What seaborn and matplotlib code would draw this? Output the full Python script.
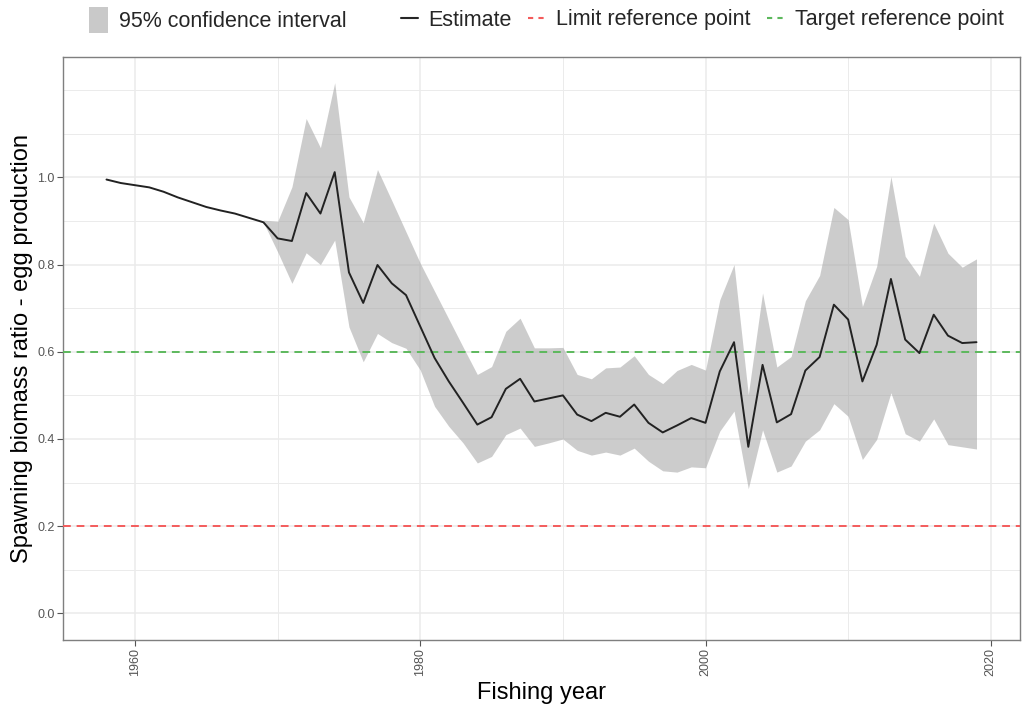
import numpy as np
import pandas as pd
import matplotlib
matplotlib.use("Agg")
import matplotlib.pyplot as plt
from matplotlib.lines import Line2D
from matplotlib.patches import Patch
import seaborn as sns

# Spawning biomass ratio (egg production) by fishing year
years = list(range(1958, 2020))
estimate = [
    0.995, 0.987, 0.982, 0.977, 0.967, 0.954, 0.943, 0.932, 0.924, 0.917, 0.907, 0.897,
    0.860, 0.854, 0.964, 0.917, 1.012, 0.782, 0.712, 0.799, 0.757, 0.730,
    0.658, 0.586, 0.532, 0.483, 0.433, 0.450, 0.515, 0.538, 0.486, 0.493,
    0.500, 0.456, 0.441, 0.460, 0.451, 0.479, 0.437, 0.415, 0.431, 0.448,
    0.437, 0.555, 0.622, 0.382, 0.570, 0.438, 0.457, 0.557, 0.588, 0.708,
    0.674, 0.532, 0.616, 0.767, 0.628, 0.597, 0.685, 0.637, 0.620, 0.622,
]

# 95% confidence interval, available from 1969 onwards
ci_years = list(range(1969, 2020))
ci_lower = [
    0.897,
    0.829, 0.757, 0.827, 0.800, 0.856, 0.657, 0.577, 0.642, 0.621, 0.608,
    0.558, 0.475, 0.429, 0.391, 0.345, 0.360, 0.410, 0.425, 0.383, 0.391,
    0.400, 0.374, 0.363, 0.370, 0.363, 0.379, 0.349, 0.327, 0.324, 0.336,
    0.334, 0.418, 0.464, 0.286, 0.421, 0.324, 0.338, 0.395, 0.421, 0.481,
    0.452, 0.353, 0.399, 0.506, 0.412, 0.395, 0.446, 0.387, 0.382, 0.377,
]
ci_upper = [
    0.902,
    0.899, 0.978, 1.135, 1.068, 1.217, 0.955, 0.896, 1.018, 0.947, 0.875,
    0.803, 0.739, 0.675, 0.611, 0.548, 0.566, 0.647, 0.677, 0.609, 0.609,
    0.610, 0.548, 0.538, 0.563, 0.565, 0.591, 0.548, 0.527, 0.557, 0.571,
    0.558, 0.719, 0.800, 0.502, 0.735, 0.565, 0.589, 0.717, 0.775, 0.931,
    0.903, 0.704, 0.796, 1.002, 0.819, 0.773, 0.895, 0.826, 0.794, 0.813,
]

limit_ref = 0.2
target_ref = 0.6

y_ticks = [0.0, 0.2, 0.4, 0.6, 0.8, 1.0]
y_tick_labels = ["0.0", "0.2", "0.4", "0.6", "0.8", "1.0"]
x_ticks = [1960, 1980, 2000, 2020]

legend_labels = ["95% confidence interval", "Estimate",
                 "Limit reference point", "Target reference point"]

df = pd.DataFrame({"year": years, "estimate": estimate})
ci = pd.DataFrame({"year": ci_years, "lower": ci_lower, "upper": ci_upper})

sns.set_theme(style="white")
plt.rcParams["font.family"] = ["Liberation Sans", "DejaVu Sans"]

W, H = 1022, 704
fig = plt.figure(figsize=(W / 100, H / 100), dpi=100)
ax = fig.add_axes([63 / W, 1 - 640 / H, (1020 - 63) / W, (640 - 57) / H])
ax.set_facecolor("white")

grid_col = "#ebebeb"
ci_col = "#a3a3a3"
red = "#f45b5b"
green = "#5cb85c"

# Grid lines (major + minor)
ax.set_yticks(y_ticks)
ax.set_yticklabels(y_tick_labels)
ax.set_yticks(np.arange(0.1, 1.25, 0.1), minor=True)
ax.set_xticks(x_ticks)
ax.set_xticklabels([str(t) for t in x_ticks], rotation=90)
ax.set_xticks([1970, 1990, 2010], minor=True)
ax.grid(True, which="major", color=grid_col, lw=1.1, zorder=0)
ax.grid(True, which="minor", color=grid_col, lw=0.7, zorder=0)
ax.set_axisbelow(True)

# Confidence band and estimate
ax.fill_between(ci["year"], ci["lower"], ci["upper"], color=ci_col,
                alpha=0.55, lw=0, zorder=2)
sns.lineplot(data=df, x="year", y="estimate", ax=ax, color="#222222",
             lw=1.4, zorder=4)

# Reference points
ax.axhline(limit_ref, color=red, lw=1.4, ls=(0, (4, 3)), zorder=3)
ax.axhline(target_ref, color=green, lw=1.4, ls=(0, (4, 3)), zorder=3)

ax.set_xlim(1954.95, 2022.05)
ax.set_ylim(-0.061, 1.276)

ax.set_xlabel("Fishing year", fontsize=17, color="black", labelpad=4)
ax.set_ylabel("Spawning biomass ratio - egg production", fontsize=17,
              color="black", labelpad=3)

ax.tick_params(axis="both", which="major", labelsize=9, labelcolor="#555555",
               color="#555555", length=4, width=0.8, direction="out",
               bottom=True, left=True, pad=2)
ax.tick_params(axis="both", which="minor", length=0)

for sp in ax.spines.values():
    sp.set_visible(True)
    sp.set_color("#7f7f7f")
    sp.set_linewidth(1.0)

# Legend across the top
leg1 = fig.legend(
    handles=[Patch(facecolor="#c9c9c9", edgecolor="none")],
    labels=[legend_labels[0]],
    loc="center left", bbox_to_anchor=(80 / W, 1 - 20 / H),
    frameon=False, fontsize=15.5, handlelength=0.9, handleheight=1.5,
    handletextpad=0.5, borderaxespad=0,
)
leg2 = fig.legend(
    handles=[
        Line2D([], [], color="#262626", lw=1.5),
        Line2D([], [], color=red, lw=1.5, ls=(0, (2.5, 2.5))),
        Line2D([], [], color=green, lw=1.5, ls=(0, (2.5, 2.5))),
    ],
    labels=legend_labels[1:],
    loc="center left", bbox_to_anchor=(392 / W, 1 - 20 / H),
    frameon=False, fontsize=15.5, ncol=3, handlelength=0.8,
    handletextpad=0.5, columnspacing=0.75, borderaxespad=0,
)

fig.savefig("out.png", dpi=100)
